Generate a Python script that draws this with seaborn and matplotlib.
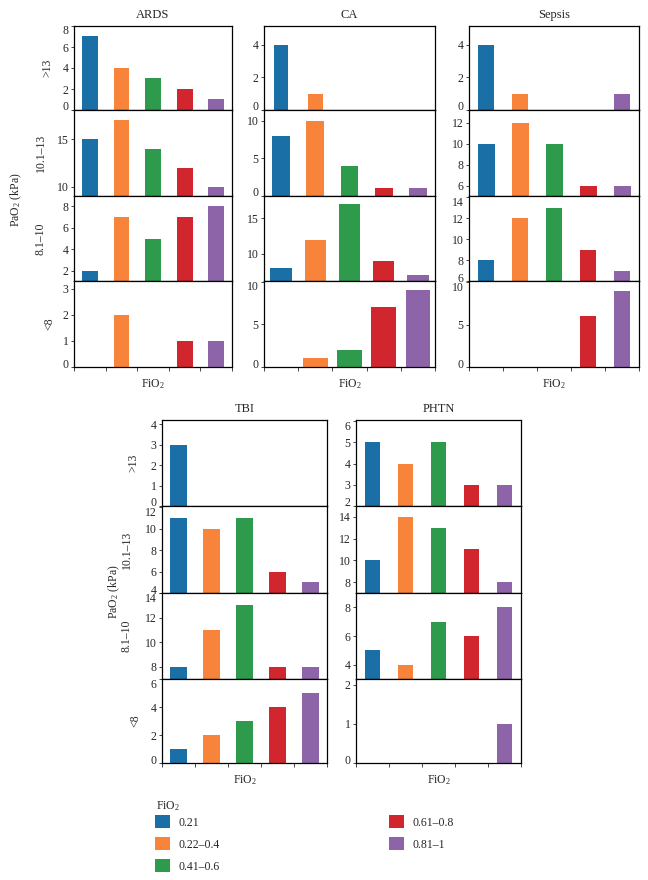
import matplotlib
matplotlib.use("Agg")
import matplotlib.pyplot as plt
import matplotlib.transforms as mtrans
import seaborn as sns
import pandas as pd
from matplotlib.patches import Patch

# ---------------- data ----------------
diagnoses = ["ARDS", "CA", "Sepsis", "TBI", "PHTN"]
pao2_rows = [">13", "10.1–13", "8.1–10", "<8"]
fio2_levels = ["0.21", "0.22–0.4", "0.41–0.6", "0.61–0.8", "0.81–1"]

ards_counts = [[7, 4, 3, 2, 1], [15, 17, 14, 12, 10], [2, 7, 5, 7, 8], [0, 2, 0, 1, 1]]
ca_counts = [[4, 1, 0, 0, 0], [8, 10, 4, 1, 1], [8, 12, 17, 9, 7], [0, 1, 2, 7, 9]]
sepsis_counts = [[4, 1, 0, 0, 1], [10, 12, 10, 6, 6], [8, 12, 13, 9, 7], [0, 0, 0, 6, 9]]
tbi_counts = [[3, 0, 0, 0, 0], [11, 10, 11, 6, 5], [8, 11, 13, 8, 8], [1, 2, 3, 4, 5]]
phtn_counts = [[5, 4, 5, 3, 3], [10, 14, 13, 11, 8], [5, 4, 7, 6, 8], [0, 0, 0, 0, 1]]

# y ticks per panel/row (tick labels)
ards_ticks = [[0, 2, 4, 6, 8], [10, 15], [2, 4, 6, 8], [0, 1, 2, 3]]
ca_ticks = [[0, 2, 4], [0, 5, 10], [10, 15], [0, 5, 10]]
sepsis_ticks = [[0, 2, 4], [6, 8, 10, 12], [6, 8, 10, 12, 14], [0, 5, 10]]
tbi_ticks = [[0, 1, 2, 3, 4], [4, 6, 8, 10, 12], [8, 10, 12, 14], [0, 2, 4, 6]]
phtn_ticks = [[2, 3, 4, 5, 6], [8, 10, 12, 14], [4, 6, 8], [0, 1, 2]]

# ---------------- styling / layout ----------------
ylims = {
    "ARDS": [(0, 8.0), (9, 18.1), (1.05, 8.95), (0, 3.3)],
    "CA": [(0, 5.15), (0, 11.4), (6.1, 18.2), (0, 10.1)],
    "Sepsis": [(0, 5.15), (5, 13.2), (6, 14.1), (0, 10.15)],
    "TBI": [(0, 4.2), (4, 12.1), (7, 14), (0, 6)],
    "PHTN": [(2, 6.05), (7, 15), (3, 9), (0, 2.15)],
}
bar_widths = {
    "ARDS": [0.5, 0.5, 0.5, 0.5],
    "CA": [0.43, 0.52, 0.62, 0.72],
    "Sepsis": [0.45, 0.5, 0.49, 0.46],
    "TBI": [0.49, 0.49, 0.5, 0.5],
    "PHTN": [0.48, 0.48, 0.48, 0.48],
}
colors = ["#1a6fa6", "#f7843a", "#2e9a4c", "#d1262e", "#8d64a8"]

W, H = 648, 880
top_rows = [26, 110, 196, 281, 367]
bot_rows = [420, 506, 593, 679, 763]
col_x = {
    "ARDS": (74, 232), "CA": (264, 435), "Sepsis": (469, 639),
    "TBI": (162, 327), "PHTN": (356, 521),
}
row_label_x = {"ARDS": [47, 41, 41, 49], "TBI": [133, 127, 127, 135]}

sns.set_style("ticks")
plt.rcParams["font.family"] = ["Liberation Serif", "DejaVu Serif"]
plt.rcParams["mathtext.fontset"] = "custom"
plt.rcParams["mathtext.rm"] = "Liberation Serif"
plt.rcParams["mathtext.it"] = "Liberation Serif:italic"

counts = {"ARDS": ards_counts, "CA": ca_counts, "Sepsis": sepsis_counts,
          "TBI": tbi_counts, "PHTN": phtn_counts}
ticks = {"ARDS": ards_ticks, "CA": ca_ticks, "Sepsis": sepsis_ticks,
         "TBI": tbi_ticks, "PHTN": phtn_ticks}

records = []
for d in diagnoses:
    for ri, r in enumerate(pao2_rows):
        for fi, f in enumerate(fio2_levels):
            records.append({"diag": d, "pao2": r, "fio2": f, "n": counts[d][ri][fi]})
df = pd.DataFrame(records)
df["fio2"] = pd.Categorical(df["fio2"], categories=fio2_levels, ordered=True)

fig = plt.figure(figsize=(W / 100, H / 100), dpi=100)
palette = dict(zip(fio2_levels, colors))

for d in diagnoses:
    rows = top_rows if d in ("ARDS", "CA", "Sepsis") else bot_rows
    x0, x1 = col_x[d]
    for ri, r in enumerate(pao2_rows):
        y0, y1 = rows[ri], rows[ri + 1]
        ax = fig.add_axes([x0 / W, 1 - y1 / H, (x1 - x0) / W, (y1 - y0) / H])
        sub = df[(df["diag"] == d) & (df["pao2"] == r)]
        sns.barplot(data=sub, x="fio2", y="n", hue="fio2", palette=palette,
                    order=fio2_levels, hue_order=fio2_levels, width=bar_widths[d][ri],
                    saturation=1, legend=False, ax=ax, edgecolor="none", linewidth=0)
        lo, hi = ylims[d][ri]
        ax.set_ylim(lo, hi)
        tk = ticks[d][ri]
        ax.set_yticks(tk)
        ax.set_xlim(-0.5, 4.5)
        ax.set_ylabel("")
        ax.set_xlabel("")
        for s in ax.spines.values():
            s.set_visible(True)
            s.set_color("black")
            s.set_linewidth(0.9)
        ax.tick_params(axis="y", direction="out", length=2.5, width=0.6,
                       labelsize=8.5, pad=1.5)
        # nudge labels that sit on the row edges inward (as in the reference)
        span_px = (y1 - y0)
        for t, v in zip(ax.yaxis.get_major_ticks(), tk):
            pos_px = (v - lo) / (hi - lo) * span_px
            dy = 0
            if pos_px < 3:
                dy = 4
            elif pos_px > span_px - 3:
                dy = -4
            if dy:
                off = mtrans.ScaledTranslation(0, dy / 100, fig.dpi_scale_trans)
                t.label1.set_transform(t.label1.get_transform() + off)
        if ri == 3:
            ax.set_xticks([-0.5, 0.5, 1.5, 2.5, 3.5, 4.5])
            ax.set_xticklabels([])
            ax.tick_params(axis="x", direction="out", length=3, width=0.6)
            ax.set_xlabel("FiO$_2$", fontsize=8.5, labelpad=1)
        else:
            ax.set_xticks([])
        if ri == 0:
            ax.set_title(d, fontsize=9, pad=6)
        if d in row_label_x:
            fig.text(row_label_x[d][ri] / W, 1 - (y0 + y1) / 2 / H, r, rotation=90,
                     ha="center", va="center", fontsize=8.5)

fig.text(16 / W, 1 - 200 / H, "PaO$_2$ (kPa)", rotation=90, ha="center",
         va="center", fontsize=8.5)
fig.text(114 / W, 1 - 592 / H, "PaO$_2$ (kPa)", rotation=90, ha="center",
         va="center", fontsize=8.5)

fig.text(156 / W, 1 - 806 / H, "FiO$_2$", ha="left", va="center", fontsize=8.5)
handles = [Patch(facecolor=c, edgecolor="none", label=l) for c, l in zip(colors, fio2_levels)]
leg = fig.legend(handles=handles, ncol=2, loc="upper left",
                 bbox_to_anchor=(155 / W, 1 - 815 / H), frameon=False,
                 fontsize=8.5, handlelength=1.3,
                 handleheight=1.35, labelspacing=0.72, columnspacing=14.3,
                 handletextpad=0.7, borderaxespad=0, borderpad=0)

fig.savefig("out.png", dpi=100)
